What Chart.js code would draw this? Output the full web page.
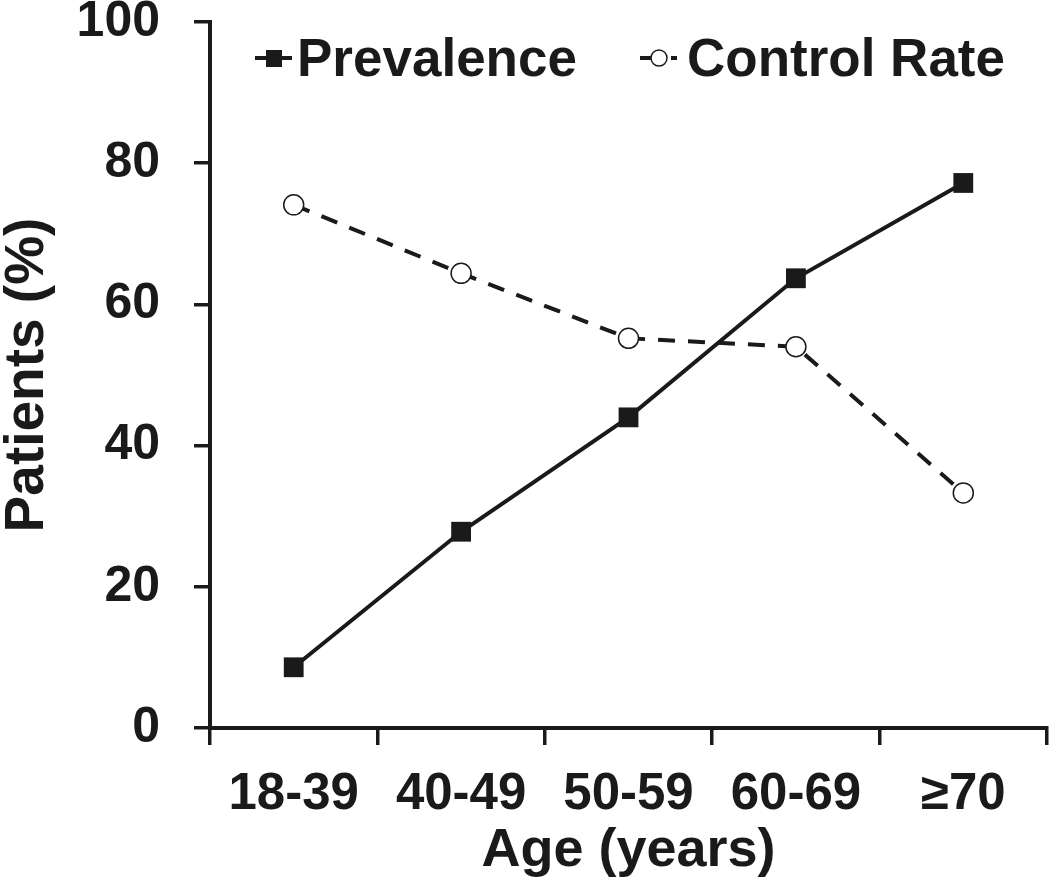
<!DOCTYPE html>
<html>
<head>
<meta charset="utf-8">
<script src="https://cdn.jsdelivr.net/npm/chart.js@4/dist/chart.umd.min.js"></script>
<style>
  html, body { margin: 0; padding: 0; background: #ffffff; }
  #wrap { width: 1050px; height: 882px; }
</style>
</head>
<body>
<div id="wrap"><canvas id="c" width="1050" height="882"></canvas></div>
<script>
const categories = ['18-39', '40-49', '50-59', '60-69', '\u226570'];
const prevalence = [8.6, 27.8, 44.0, 63.7, 77.2];
const controlRate = [74.1, 64.4, 55.2, 54.0, 33.3];
const yTickValues = [0, 20, 40, 60, 80, 100];
const seriesNames = ['Prevalence', 'Control Rate'];
const xTitle = 'Age (years)';
const yTitle = 'Patients (%)';

const INK = '#1a1a1a';
const FAMILY = "'Liberation Sans', Arial, Helvetica, sans-serif";

const legendPlugin = {
  id: 'insideLegend',
  afterDraw(chart) {
    const ctx = chart.ctx;
    const a = chart.chartArea;
    const cy = a.top + 36;
    ctx.save();
    ctx.font = 'bold 53px ' + FAMILY;
    ctx.fillStyle = INK;
    ctx.textBaseline = 'alphabetic';
    ctx.textAlign = 'left';
    // Prevalence
    let x0 = a.left + 45;
    ctx.strokeStyle = INK;
    ctx.lineWidth = 4;
    ctx.setLineDash([]);
    ctx.beginPath();
    ctx.moveTo(x0, cy);
    ctx.lineTo(x0 + 37, cy);
    ctx.stroke();
    ctx.fillRect(x0 + 11, cy - 8, 16, 17);
    ctx.fillText(seriesNames[0], x0 + 42, cy + 18);
    // Control Rate
    let x1 = a.left + 430;
    ctx.beginPath();
    ctx.moveTo(x1, cy);
    ctx.lineTo(x1 + 12, cy);
    ctx.moveTo(x1 + 31, cy);
    ctx.lineTo(x1 + 37, cy);
    ctx.stroke();
    ctx.beginPath();
    ctx.arc(x1 + 19, cy, 8, 0, Math.PI * 2);
    ctx.fillStyle = '#ffffff';
    ctx.fill();
    ctx.lineWidth = 1.5;
    ctx.stroke();
    ctx.fillStyle = INK;
    ctx.fillText(seriesNames[1], x1 + 47, cy + 18);
    ctx.restore();
  }
};

new Chart(document.getElementById('c'), {
  type: 'line',
  data: {
    labels: categories,
    datasets: [
      {
        label: seriesNames[0],
        data: prevalence,
        borderColor: INK,
        backgroundColor: INK,
        borderWidth: 4,
        pointStyle: 'rect',
        pointRadius: 14,
        pointBorderWidth: 0,
        pointBackgroundColor: INK,
        tension: 0,
        fill: false,
        clip: false
      },
      {
        label: seriesNames[1],
        data: controlRate,
        borderColor: INK,
        backgroundColor: '#ffffff',
        borderWidth: 4,
        borderDash: [17, 13],
        pointStyle: 'circle',
        pointRadius: 10,
        pointBorderWidth: 1.5,
        pointBorderColor: INK,
        pointBackgroundColor: '#ffffff',
        tension: 0,
        fill: false,
        clip: false
      }
    ]
  },
  options: {
    responsive: false,
    animation: false,
    events: [],
    layout: { autoPadding: false, padding: { top: 22, right: 3, left: 0, bottom: 0 } },
    plugins: {
      legend: { display: false },
      tooltip: { enabled: false },
      title: { display: false }
    },
    scales: {
      x: {
        type: 'category',
        offset: true,
        grid: {
          offset: true,
          drawOnChartArea: false,
          drawTicks: true,
          tickLength: 17,
          lineWidth: 3.5,
          color: INK
        },
        border: { display: true, width: 4, color: INK },
        ticks: {
          color: INK,
          font: { family: FAMILY, size: 51, weight: 'bold', lineHeight: 1 },
          padding: 24,
          maxRotation: 0,
          autoSkip: false
        },
        title: {
          display: true,
          text: xTitle,
          color: INK,
          font: { family: FAMILY, size: 54, weight: 'bold', lineHeight: 1 },
          padding: { top: 0, bottom: 4 }
        },
        afterFit(s) { s.height = 154; s.paddingLeft = 0; s.paddingRight = 0; }
      },
      y: {
        min: 0,
        max: 100,
        afterBuildTicks(s) { s.ticks = yTickValues.map(v => ({ value: v })); },
        grid: {
          drawOnChartArea: false,
          drawTicks: true,
          tickLength: 16,
          lineWidth: 3.5,
          color: INK
        },
        border: { display: true, width: 4, color: INK },
        ticks: {
          color: INK,
          font: { family: FAMILY, size: 50, weight: 'bold', lineHeight: 1 },
          padding: 34
        },
        title: {
          display: true,
          text: yTitle,
          color: INK,
          font: { family: FAMILY, size: 55, weight: 'bold', lineHeight: 1 },
          padding: { top: 0, bottom: 0 }
        },
        afterFit(s) { s.width = 210; s.paddingTop = 0; s.paddingBottom = 0; }
      }
    }
  },
  plugins: [legendPlugin]
});
</script>
</body>
</html>
